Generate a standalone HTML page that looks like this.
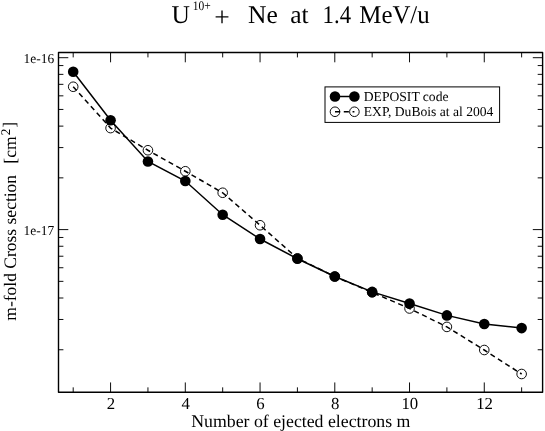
<!DOCTYPE html><html><head><meta charset="utf-8"><title>chart</title>
<style>html,body{margin:0;padding:0;background:#fff;}body{width:545px;height:431px;overflow:hidden;}svg{display:block;will-change:transform;}text{text-rendering:geometricPrecision;font-family:"Liberation Serif",serif;fill:#000;}</style></head><body>
<svg width="545" height="431" viewBox="0 0 545 431">
<rect x="0" y="0" width="545" height="431" fill="#fff"/>
<g stroke="#000" stroke-width="0.95" fill="none">
<line x1="73.20" y1="392.25" x2="73.20" y2="387.35"/>
<line x1="73.20" y1="52.5" x2="73.20" y2="57.40"/>
<line x1="110.57" y1="392.25" x2="110.57" y2="382.45"/>
<line x1="110.57" y1="52.5" x2="110.57" y2="62.30"/>
<line x1="147.94" y1="392.25" x2="147.94" y2="387.35"/>
<line x1="147.94" y1="52.5" x2="147.94" y2="57.40"/>
<line x1="185.31" y1="392.25" x2="185.31" y2="382.45"/>
<line x1="185.31" y1="52.5" x2="185.31" y2="62.30"/>
<line x1="222.68" y1="392.25" x2="222.68" y2="387.35"/>
<line x1="222.68" y1="52.5" x2="222.68" y2="57.40"/>
<line x1="260.05" y1="392.25" x2="260.05" y2="382.45"/>
<line x1="260.05" y1="52.5" x2="260.05" y2="62.30"/>
<line x1="297.42" y1="392.25" x2="297.42" y2="387.35"/>
<line x1="297.42" y1="52.5" x2="297.42" y2="57.40"/>
<line x1="334.79" y1="392.25" x2="334.79" y2="382.45"/>
<line x1="334.79" y1="52.5" x2="334.79" y2="62.30"/>
<line x1="372.16" y1="392.25" x2="372.16" y2="387.35"/>
<line x1="372.16" y1="52.5" x2="372.16" y2="57.40"/>
<line x1="409.53" y1="392.25" x2="409.53" y2="382.45"/>
<line x1="409.53" y1="52.5" x2="409.53" y2="62.30"/>
<line x1="446.90" y1="392.25" x2="446.90" y2="387.35"/>
<line x1="446.90" y1="52.5" x2="446.90" y2="57.40"/>
<line x1="484.27" y1="392.25" x2="484.27" y2="382.45"/>
<line x1="484.27" y1="52.5" x2="484.27" y2="62.30"/>
<line x1="521.64" y1="392.25" x2="521.64" y2="387.35"/>
<line x1="521.64" y1="52.5" x2="521.64" y2="57.40"/>
<line x1="58.5" y1="57.70" x2="68.30" y2="57.70"/>
<line x1="542.6" y1="57.70" x2="532.80" y2="57.70"/>
<line x1="58.5" y1="65.57" x2="63.40" y2="65.57"/>
<line x1="542.6" y1="65.57" x2="537.70" y2="65.57"/>
<line x1="58.5" y1="74.36" x2="63.40" y2="74.36"/>
<line x1="542.6" y1="74.36" x2="537.70" y2="74.36"/>
<line x1="58.5" y1="84.33" x2="63.40" y2="84.33"/>
<line x1="542.6" y1="84.33" x2="537.70" y2="84.33"/>
<line x1="58.5" y1="95.84" x2="63.40" y2="95.84"/>
<line x1="542.6" y1="95.84" x2="537.70" y2="95.84"/>
<line x1="58.5" y1="109.45" x2="63.40" y2="109.45"/>
<line x1="542.6" y1="109.45" x2="537.70" y2="109.45"/>
<line x1="58.5" y1="126.11" x2="63.40" y2="126.11"/>
<line x1="542.6" y1="126.11" x2="537.70" y2="126.11"/>
<line x1="58.5" y1="147.58" x2="63.40" y2="147.58"/>
<line x1="542.6" y1="147.58" x2="537.70" y2="147.58"/>
<line x1="58.5" y1="177.85" x2="63.40" y2="177.85"/>
<line x1="542.6" y1="177.85" x2="537.70" y2="177.85"/>
<line x1="58.5" y1="229.60" x2="68.30" y2="229.60"/>
<line x1="542.6" y1="229.60" x2="532.80" y2="229.60"/>
<line x1="58.5" y1="237.47" x2="63.40" y2="237.47"/>
<line x1="542.6" y1="237.47" x2="537.70" y2="237.47"/>
<line x1="58.5" y1="246.26" x2="63.40" y2="246.26"/>
<line x1="542.6" y1="246.26" x2="537.70" y2="246.26"/>
<line x1="58.5" y1="256.23" x2="63.40" y2="256.23"/>
<line x1="542.6" y1="256.23" x2="537.70" y2="256.23"/>
<line x1="58.5" y1="267.74" x2="63.40" y2="267.74"/>
<line x1="542.6" y1="267.74" x2="537.70" y2="267.74"/>
<line x1="58.5" y1="281.35" x2="63.40" y2="281.35"/>
<line x1="542.6" y1="281.35" x2="537.70" y2="281.35"/>
<line x1="58.5" y1="298.01" x2="63.40" y2="298.01"/>
<line x1="542.6" y1="298.01" x2="537.70" y2="298.01"/>
<line x1="58.5" y1="319.48" x2="63.40" y2="319.48"/>
<line x1="542.6" y1="319.48" x2="537.70" y2="319.48"/>
<line x1="58.5" y1="349.75" x2="63.40" y2="349.75"/>
<line x1="542.6" y1="349.75" x2="537.70" y2="349.75"/>
</g>
<rect x="58.5" y="52.5" width="484.10" height="339.75" fill="none" stroke="#000" stroke-width="1.4" stroke-linejoin="round"/>
<polyline points="73.20,71.75 110.57,120.25 147.94,161.50 185.31,181.00 222.68,214.75 260.05,239.00 297.42,258.75 334.79,276.50 372.16,291.90 409.53,303.50 446.90,315.40 484.27,324.00 521.64,328.10" fill="none" stroke="#000" stroke-width="1.5"/>
<polyline points="73.20,86.75 110.57,128.10 147.94,150.25 185.31,171.25 222.68,192.75 260.05,225.25 297.42,258.30 334.79,276.50 372.16,292.40 409.53,308.50 446.90,326.90 484.27,350.00 521.64,374.00" fill="none" stroke="#000" stroke-width="1.5" stroke-dasharray="5.1 3.68"/>
<circle cx="73.20" cy="71.75" r="5.3" fill="#000"/>
<circle cx="110.57" cy="120.25" r="5.3" fill="#000"/>
<circle cx="147.94" cy="161.50" r="5.3" fill="#000"/>
<circle cx="185.31" cy="181.00" r="5.3" fill="#000"/>
<circle cx="222.68" cy="214.75" r="5.3" fill="#000"/>
<circle cx="260.05" cy="239.00" r="5.3" fill="#000"/>
<circle cx="297.42" cy="258.75" r="5.3" fill="#000"/>
<circle cx="334.79" cy="276.50" r="5.3" fill="#000"/>
<circle cx="372.16" cy="291.90" r="5.3" fill="#000"/>
<circle cx="409.53" cy="303.50" r="5.3" fill="#000"/>
<circle cx="446.90" cy="315.40" r="5.3" fill="#000"/>
<circle cx="484.27" cy="324.00" r="5.3" fill="#000"/>
<circle cx="521.64" cy="328.10" r="5.3" fill="#000"/>
<circle cx="73.20" cy="86.75" r="4.8" fill="none" stroke="#000" stroke-width="0.95"/>
<circle cx="110.57" cy="128.10" r="4.8" fill="none" stroke="#000" stroke-width="0.95"/>
<circle cx="147.94" cy="150.25" r="4.8" fill="none" stroke="#000" stroke-width="0.95"/>
<circle cx="185.31" cy="171.25" r="4.8" fill="none" stroke="#000" stroke-width="0.95"/>
<circle cx="222.68" cy="192.75" r="4.8" fill="none" stroke="#000" stroke-width="0.95"/>
<circle cx="260.05" cy="225.25" r="4.8" fill="none" stroke="#000" stroke-width="0.95"/>
<circle cx="297.42" cy="258.30" r="4.8" fill="none" stroke="#000" stroke-width="0.95"/>
<circle cx="334.79" cy="276.50" r="4.8" fill="none" stroke="#000" stroke-width="0.95"/>
<circle cx="372.16" cy="292.40" r="4.8" fill="none" stroke="#000" stroke-width="0.95"/>
<circle cx="409.53" cy="308.50" r="4.8" fill="none" stroke="#000" stroke-width="0.95"/>
<circle cx="446.90" cy="326.90" r="4.8" fill="none" stroke="#000" stroke-width="0.95"/>
<circle cx="484.27" cy="350.00" r="4.8" fill="none" stroke="#000" stroke-width="0.95"/>
<circle cx="521.64" cy="374.00" r="4.8" fill="none" stroke="#000" stroke-width="0.95"/>
<rect x="325" y="86.9" width="174.6" height="35.5" fill="#fff" stroke="#000" stroke-width="1"/>
<line x1="335" y1="96.5" x2="354.4" y2="96.5" stroke="#000" stroke-width="1.5"/>
<circle cx="335" cy="96.5" r="5.3" fill="#000"/><circle cx="354.4" cy="96.5" r="5.3" fill="#000"/>
<line x1="335" y1="111.75" x2="354.4" y2="111.75" stroke="#000" stroke-width="1.5" stroke-dasharray="5.1 3.68"/>
<circle cx="335" cy="111.75" r="4.8" fill="none" stroke="#000" stroke-width="0.95"/><circle cx="354.4" cy="111.75" r="4.8" fill="none" stroke="#000" stroke-width="0.95"/>
<text x="363.8" y="101" font-size="13.6">DEPOSIT code</text>
<text x="363.8" y="116.3" font-size="13.6">EXP, DuBois at al 2004</text>
<text x="110.87" y="408.5" font-size="16.8" text-anchor="middle">2</text>
<text x="185.61" y="408.5" font-size="16.8" text-anchor="middle">4</text>
<text x="260.35" y="408.5" font-size="16.8" text-anchor="middle">6</text>
<text x="335.09" y="408.5" font-size="16.8" text-anchor="middle">8</text>
<text x="409.83" y="408.5" font-size="16.8" text-anchor="middle">10</text>
<text x="484.57" y="408.5" font-size="16.8" text-anchor="middle">12</text>
<text x="54.2" y="62.7" font-size="13.6" text-anchor="end" textLength="30.6" lengthAdjust="spacingAndGlyphs">1e-16</text>
<text x="54.2" y="234.5" font-size="13.6" text-anchor="end" textLength="30.6" lengthAdjust="spacingAndGlyphs">1e-17</text>
<text x="191.2" y="426.5" font-size="17.8">Number of ejected electrons m</text>
<g transform="translate(16.4,320.7) rotate(-90)" font-size="17.6">
<text x="0" y="0" font-size="17.5">m-fold Cross section</text>
<text x="157" y="0">[cm</text>
<text x="185.5" y="-6.4" font-size="13.2">2</text>
<text x="193" y="-1">]</text>
</g>
<g font-size="25.5">
<text x="171.4" y="22.8">U</text>
<text x="192.8" y="9.8" font-size="13" textLength="18" lengthAdjust="spacingAndGlyphs">10+</text>
<text x="214.3" y="25.5" font-size="27.5">+</text>
<text x="248" y="22.8">Ne</text>
<text x="290.2" y="22.8">at</text>
<text x="322.6" y="22.8" textLength="28.4" lengthAdjust="spacingAndGlyphs">1.4</text>
<text x="359.3" y="22.8" textLength="70.4" lengthAdjust="spacingAndGlyphs">MeV/u</text>
</g>
</svg></body></html>
